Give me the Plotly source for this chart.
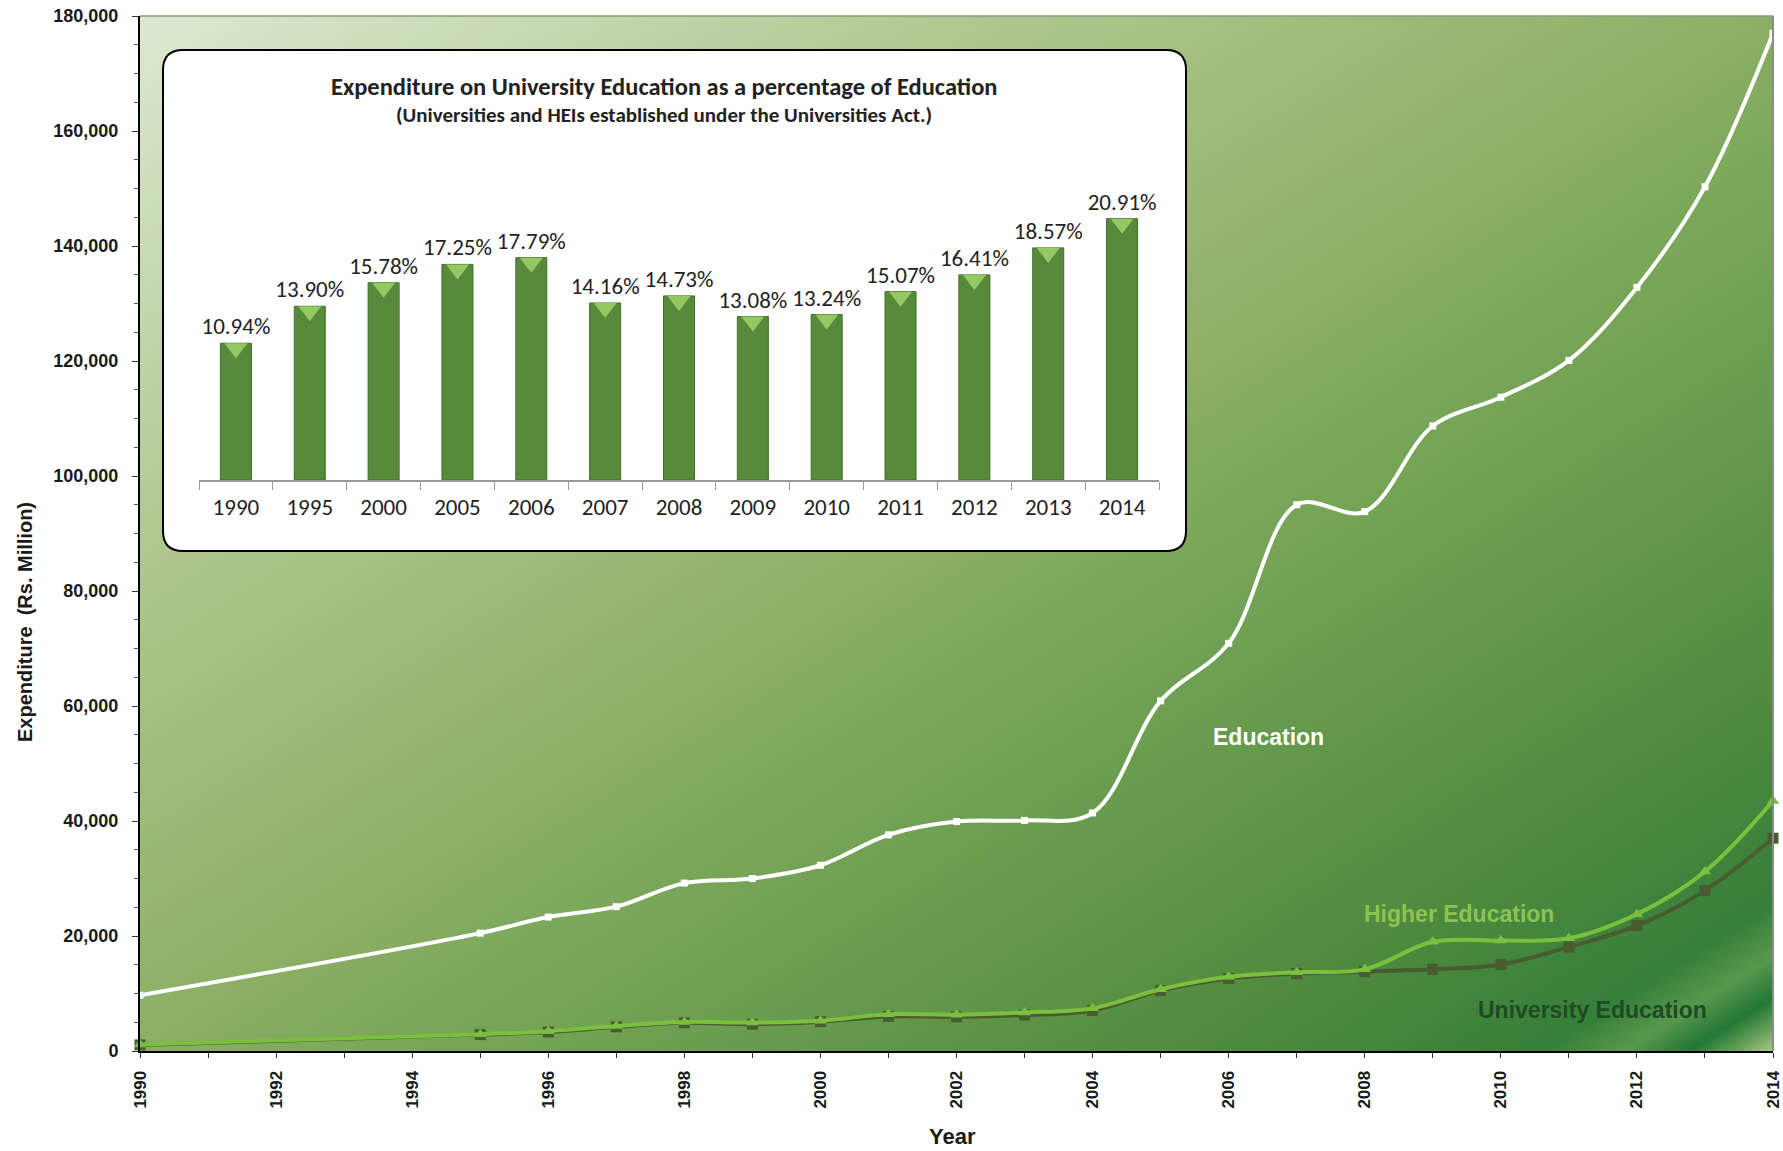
import base64
import struct
import zlib

import numpy as np
import plotly.graph_objects as go

# ---------------- data ----------------
years = [1990, 1995, 1996, 1997, 1998, 1999, 2000, 2001, 2002, 2003, 2004,
         2005, 2006, 2007, 2008, 2009, 2010, 2011, 2012, 2013, 2014]
education = [9700, 20500, 23300, 25100, 29200, 30000, 32300, 37600, 39900, 40100, 41400,
             60900, 70900, 95000, 93800, 108700, 113700, 120100, 132800, 150300, 177000]
higher_education = [1150, 2900, 3450, 4350, 5050, 4950, 5250, 6400, 6300, 6700, 7450,
                    10750, 12900, 13700, 14200, 19000, 19200, 19600, 23800, 31200, 43500]
university_education = [1060, 2850, 3300, 4200, 4900, 4650, 5100, 6000, 5950, 6250, 7050,
                        10500, 12600, 13450, 13800, 14200, 15050, 18100, 21800, 27900, 37000]

pct_years = ["1990", "1995", "2000", "2005", "2006", "2007", "2008",
             "2009", "2010", "2011", "2012", "2013", "2014"]
pct_values = [10.94, 13.90, 15.78, 17.25, 17.79, 14.16, 14.73,
              13.08, 13.24, 15.07, 16.41, 18.57, 20.91]

# ---------------- background gradient (styling only) ----------------
def gradient_png(w=820, h=520):
    u = np.linspace(0, 1, w)[None, :]
    v = np.linspace(0, 1, h)[:, None]
    s = (u + v) / 2.0
    stops = [0.0, 0.25, 0.5, 0.575, 0.825, 0.93, 0.955, 0.975, 0.99, 1.0]
    r = [220, 178, 140, 123, 80, 55, 90, 35, 110, 165]
    g = [233, 201, 175, 168, 139, 128, 152, 120, 165, 200]
    b = [210, 146, 101, 90, 63, 58, 78, 55, 95, 135]
    img = np.stack([np.interp(s, stops, r), np.interp(s, stops, g),
                    np.interp(s, stops, b)], axis=-1).astype(np.uint8)
    raw = b"".join(b"\x00" + row.tobytes() for row in img)

    def chunk(t, d):
        return (struct.pack(">I", len(d)) + t + d
                + struct.pack(">I", zlib.crc32(t + d) & 0xFFFFFFFF))

    png = (b"\x89PNG\r\n\x1a\n"
           + chunk(b"IHDR", struct.pack(">IIBBBBB", w, h, 8, 2, 0, 0, 0))
           + chunk(b"IDAT", zlib.compress(raw, 9))
           + chunk(b"IEND", b""))
    return "data:image/png;base64," + base64.b64encode(png).decode()


MAIN_FONT = "Arial, Liberation Sans, sans-serif"
INSET_FONT = "Carlito, Calibri, Lato, sans-serif"

fig = go.Figure()

# ---------------- main lines ----------------
fig.add_trace(go.Scatter(
    x=years, y=university_education, mode="lines+markers", name="University Education",
    line=dict(color="#485c2f", width=4, shape="spline"),
    marker=dict(symbol="square", size=11, color="#485c2f"),
    cliponaxis=False, showlegend=False))
fig.add_trace(go.Scatter(
    x=years, y=higher_education, mode="lines+markers", name="Higher Education",
    line=dict(color="#7bbf3f", width=4, shape="spline"),
    marker=dict(symbol="triangle-up", size=11, color="#7bbf3f"),
    cliponaxis=False, showlegend=False))
fig.add_trace(go.Scatter(
    x=years, y=education, mode="lines+markers", name="Education",
    line=dict(color="#ffffff", width=4, shape="spline"),
    marker=dict(symbol="square", size=7, color="#ffffff"),
    cliponaxis=False, showlegend=False))

# ---------------- inset bar chart ----------------
fig.add_trace(go.Bar(
    x=pct_years, y=pct_values, xaxis="x2", yaxis="y2",
    marker=dict(color="#578b3b", line=dict(color="#3f6f2b", width=1)),
    width=0.42,
    texttemplate="%{y:.2f}%", textposition="outside", constraintext="none",
    textfont=dict(family=INSET_FONT, size=23, color="#222222"),
    cliponaxis=False, showlegend=False))
fig.add_trace(go.Scatter(
    x=pct_years, y=[v - 0.4 for v in pct_values], xaxis="x2", yaxis="y2",
    mode="markers",
    marker=dict(symbol="triangle-down", size=20, color="#93c862", line=dict(width=0)),
    hoverinfo="skip", showlegend=False))

# ---------------- geometry ----------------
W, H = 1783, 1151
# plot area in page pixels: x 140..1773, y 16..1051
PL, PR, PT, PB = 140, 1773, 16, 1051
L, R, T, B = PL, W - PR, PT, H - PB
PW, PH = PR - PL, PB - PT


def px(x):
    return (x - PL) / PW


def py(y):
    return (PB - y) / PH


# rounded inset box
x0, x1, y0, y1 = px(163), px(1186), py(551), py(50)
rx, ry = 20 / PW, 20 / PH
box_path = (f"M{x0 + rx},{y1} L{x1 - rx},{y1} Q{x1},{y1} {x1},{y1 - ry} "
            f"L{x1},{y0 + ry} Q{x1},{y0} {x1 - rx},{y0} L{x0 + rx},{y0} "
            f"Q{x0},{y0} {x0},{y0 + ry} L{x0},{y1 - ry} Q{x0},{y1} {x0 + rx},{y1} Z")

shapes = [
    dict(type="path", path=box_path, xref="paper", yref="paper",
         fillcolor="#ffffff", line=dict(color="#000000", width=2), layer="below"),
    dict(type="line", xref="paper", yref="paper", x0=0, x1=1, y0=1, y1=1,
         line=dict(color="#8a9a80", width=1.5)),
    dict(type="line", xref="paper", yref="paper", x0=1, x1=1, y0=0, y1=1,
         line=dict(color="#8c8c8c", width=2)),
]

annotations = [
    dict(text="Expenditure on University Education as a percentage of Education",
         xref="paper", yref="paper", x=px(664), y=py(87), showarrow=False,
         xanchor="center", yanchor="middle",
         font=dict(family=INSET_FONT, size=24.5, color="#222222", weight="bold")),
    dict(text="(Universities and HEIs established under the Universities Act.)",
         xref="paper", yref="paper", x=px(664), y=py(115), showarrow=False,
         xanchor="center", yanchor="middle",
         font=dict(family=INSET_FONT, size=21, color="#222222", weight="bold")),
    dict(text="Education", x=2006.59, y=54600, xref="x", yref="y", showarrow=False,
         font=dict(family=MAIN_FONT, size=23, color="#ffffff", weight="bold")),
    dict(text="Higher Education", x=2009.38, y=23800, xref="x", yref="y", showarrow=False,
         font=dict(family=MAIN_FONT, size=23, color="#8cc452", weight="bold")),
    dict(text="University Education", x=2011.34, y=7100, xref="x", yref="y", showarrow=False,
         font=dict(family=MAIN_FONT, size=23, color="#1f4a24", weight="bold")),
    dict(text="Expenditure  (Rs. Million)", xref="paper", yref="paper",
         x=px(25), y=py(622), textangle=-90, showarrow=False,
         xanchor="center", yanchor="middle",
         font=dict(family=MAIN_FONT, size=20, color="#1a1a1a", weight="bold")),
    dict(text="Year", xref="paper", yref="paper", x=px(952), y=py(1136), showarrow=False,
         xanchor="center", yanchor="middle",
         font=dict(family=MAIN_FONT, size=22, color="#1a1a1a", weight="bold")),
]

fig.update_layout(
    template="none",
    width=W, height=H,
    margin=dict(l=L, r=R, t=T, b=B, autoexpand=False),
    paper_bgcolor="#ffffff",
    plot_bgcolor="rgba(0,0,0,0)",
    showlegend=False,
    shapes=shapes,
    annotations=annotations,
    images=[dict(source=gradient_png(), xref="paper", yref="paper", x=0, y=1,
                 sizex=1, sizey=1, xanchor="left", yanchor="top",
                 sizing="stretch", layer="below")],
    xaxis=dict(range=[1990, 2014], dtick=2, tick0=1990, tickangle=-90, automargin=False,
               ticklabeloverflow="allow",
               showgrid=False, zeroline=False, showline=True, linecolor="#000000",
               linewidth=2, ticks="outside", ticklen=5, tickcolor="#333333",
               minor=dict(dtick=1, ticks="outside", ticklen=5, tickcolor="#333333",
                          showgrid=False),
               tickfont=dict(family=MAIN_FONT, size=17, color="#1a1a1a", weight="bold"),
               ticklabelstandoff=6),
    yaxis=dict(range=[0, 180000], dtick=20000, tickformat=",", automargin=False,
               ticklabeloverflow="allow",
               showgrid=False, zeroline=False, showline=True, linecolor="#000000",
               linewidth=2, ticks="outside", ticklen=6, tickcolor="#333333",
               minor=dict(dtick=5000, ticks="outside", ticklen=4, tickcolor="#555555",
                          showgrid=False),
               tickfont=dict(family=MAIN_FONT, size=18, color="#1a1a1a", weight="bold"),
               ticklabelstandoff=10),
    xaxis2=dict(domain=[px(199), px(1159)], anchor="y2", type="category", automargin=False,
                range=[-0.5, len(pct_years) - 0.5],
                showgrid=False, zeroline=False, showline=True, linecolor="#9a9a9a",
                linewidth=1.5, ticks="outside", tickson="boundaries", ticklen=8,
                tickcolor="#9a9a9a",
                tickfont=dict(family=INSET_FONT, size=23, color="#222222"),
                ticklabelstandoff=6),
    yaxis2=dict(domain=[py(480), py(180)], anchor="x2", range=[0, 24], visible=False,
                automargin=False),
    bargap=0.58,
)

# remove the browser's default 8px body margin so the figure fills the window exactly
fig.write_html(
    "out.html",
    config={"displayModeBar": False},
    post_script="document.body.style.margin='0';"
                "document.documentElement.style.overflow='hidden';",
)
